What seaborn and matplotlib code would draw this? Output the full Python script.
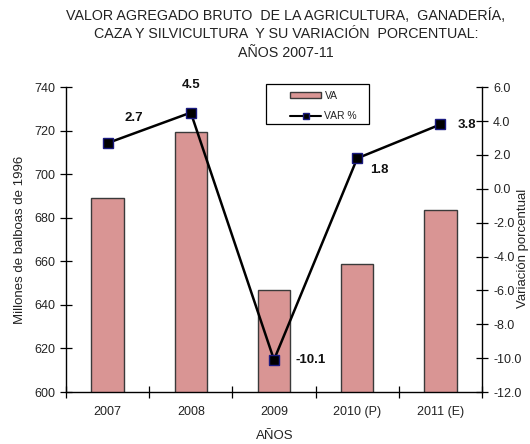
import matplotlib
matplotlib.use("Agg")
import matplotlib.pyplot as plt
import seaborn as sns
import pandas as pd
from matplotlib.patches import Patch, Rectangle
from matplotlib.lines import Line2D
from matplotlib.ticker import FixedLocator, NullFormatter, FormatStrFormatter

# ---- data ----
years = ["2007", "2008", "2009", "2010 (P)", "2011 (E)"]
va_values = [689.0, 719.5, 646.7, 658.6, 683.7]
var_pct = [2.7, 4.5, -10.1, 1.8, 3.8]
var_labels = ["2.7", "4.5", "-10.1", "1.8", "3.8"]

sns.set_theme(style="white")
plt.rcParams['font.family'] = ['Liberation Sans', 'DejaVu Sans']

df = pd.DataFrame({"year": years, "va": va_values, "var": var_pct})

fig = plt.figure(figsize=(5.30, 4.44), dpi=100)
ax = fig.add_axes([66 / 530, 52 / 444, (482 - 66) / 530, (392.3 - 87.5) / 444])

sns.barplot(data=df, x="year", y="va", ax=ax, color="#D99594", saturation=1,
            width=0.39, edgecolor="#3a3a3a", linewidth=1.0, zorder=2)
ax.set_ylim(600, 740)
ax.set_yticks(range(600, 741, 20))
ax.set_xlim(-0.5, 4.5)

ax2 = ax.twinx()
sns.lineplot(data=df, x="year", y="var", ax=ax2, sort=False, color="black",
             linewidth=1.8, marker="s", markersize=7, markerfacecolor="black",
             markeredgecolor="#1a1a80", markeredgewidth=1.0, zorder=3)
ax2.set_ylim(-12, 6)
ax2.set_yticks([-12, -10, -8, -6, -4, -2, 0, 2, 4, 6])
ax2.yaxis.set_major_formatter(FormatStrFormatter("%.1f"))
ax2.set_xlim(-0.5, 4.5)

# x ticks: boundaries as major ticks, labels at category centers
ax.xaxis.set_major_locator(FixedLocator([-0.5, 0.5, 1.5, 2.5, 3.5, 4.5]))
ax.xaxis.set_major_formatter(NullFormatter())
ax.xaxis.set_minor_locator(FixedLocator(range(len(years))))
ax.set_xticklabels(years, minor=True)
ax.tick_params(axis="x", which="major", direction="inout", length=8, width=0.9,
               color="black", bottom=True)
ax.tick_params(axis="x", which="minor", length=0, pad=10, labelsize=9, labelcolor="#222222")
ax.tick_params(axis="y", direction="inout", length=8, width=0.9, color="black",
               left=True, labelsize=9, labelcolor="#222222", pad=4)
ax2.tick_params(axis="y", direction="inout", length=8, width=0.9, color="black",
                right=True, labelsize=9, labelcolor="#222222", pad=4)

for a in (ax, ax2):
    a.spines["top"].set_visible(False)
    for s in ("left", "right", "bottom"):
        a.spines[s].set_color("black")
        a.spines[s].set_linewidth(1.0)
ax.spines["right"].set_visible(False)
ax2.spines["left"].set_visible(False)
ax2.spines["bottom"].set_visible(False)

ax.set_xlabel("AÑOS", fontsize=9.5, color="#222222")
ax.xaxis.set_label_coords((275 - 66) / 416, -(430 - 392.3) / 304.8)
ax.set_ylabel("Millones de balboas de 1996", fontsize=9.5, color="#222222", labelpad=6)
ax2.set_ylabel("Variación porcentual", fontsize=9.5, color="#222222")
ax2.yaxis.set_label_coords((517 - 66) / 416, 0.47)

# data labels
offsets = [(26, 25), (0, 28), (37, 0), (22, -12), (27, -1)]
for i, (lbl, off) in enumerate(zip(var_labels, offsets)):
    ax2.annotate(lbl, xy=(i, var_pct[i]), xytext=off, textcoords="offset pixels",
                 ha="center", va="center", fontsize=9.5, fontweight="bold", color="#111111")

# legend (frame drawn separately to match the wide box)
fig.patches.append(Rectangle((266 / 530, 1 - 124 / 444), 103 / 530, 40 / 444,
                             transform=fig.transFigure, facecolor="white",
                             edgecolor="black", linewidth=0.9, zorder=4))
handles = [Patch(facecolor="#D99594", edgecolor="#3a3a3a", linewidth=1.0),
           Line2D([0], [0], color="black", linewidth=1.5, marker="s", markersize=5,
                  markerfacecolor="black", markeredgecolor="#1a1a80")]
leg = fig.legend(handles, ["VA", "VAR %"], loc="upper left",
                 bbox_to_anchor=(288 / 530, 1 - 89 / 444), frameon=False,
                 fontsize=7.5, handlelength=3.0, handleheight=0.5, borderpad=0.2,
                 labelspacing=0.95, handletextpad=0.3, borderaxespad=0)
leg.set_zorder(5)
for t in leg.get_texts():
    t.set_color("#222222")

fig.text(286 / 530, 1 - 34 / 444,
         "VALOR AGREGADO BRUTO  DE LA AGRICULTURA,  GANADERÍA,\n"
         "CAZA Y SILVICULTURA  Y SU VARIACIÓN  PORCENTUAL:\nAÑOS 2007-11",
         ha="center", va="center", fontsize=10.3, color="#222222", linespacing=1.4)

fig.savefig("out.png", dpi=100, facecolor="white")
